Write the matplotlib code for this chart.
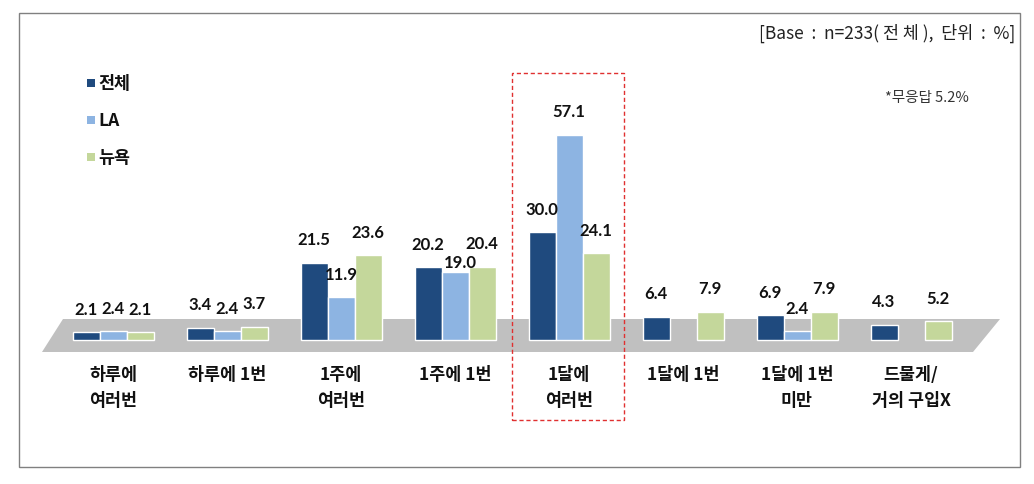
import numpy as np
import matplotlib
matplotlib.use("Agg")
import matplotlib.pyplot as plt
from matplotlib.patches import Polygon, Rectangle

plt.rcParams['font.family'] = ['Noto Sans CJK KR', 'DejaVu Sans']

categories = ["하루에\n여러번", "하루에 1번", "1주에\n여러번", "1주에 1번",
              "1달에\n여러번", "1달에 1번", "1달에 1번\n미만", "드물게/\n거의 구입X"]
series_names = ["전체", "LA", "뉴욕"]
total = [2.1, 3.4, 21.5, 20.2, 30.0, 6.4, 6.9, 4.3]
la = [2.4, 2.4, 11.9, 19.0, 57.1, np.nan, 2.4, np.nan]
ny = [2.1, 3.7, 23.6, 20.4, 24.1, 7.9, 7.9, 5.2]
colors = ["#1F4A7E", "#8DB4E2", "#C4D79B"]

W, H = 1034, 485
fig = plt.figure(figsize=(W / 100, H / 100), dpi=100)

# pixel helpers (x from left, y from top)
def fx(x):
    return x / W

def fy(y):
    return 1 - y / H

# axes mapping: category centers at 113 + 114*i px, baseline at y=341 px, 3.59 px/unit
base_px = 341
ppu = 3.59
ax = fig.add_axes([0, 0, 1, 1])
ax.set_xlim(-113 / 114, (W - 113) / 114)
ax.set_ylim(-(H - base_px) / ppu, base_px / ppu)
ax.axis('off')

# gray floor (behind bars)
floor = Polygon([(fx(63), fy(320)), (fx(1000), fy(320)), (fx(973), fy(353)), (fx(42), fy(353))],
                closed=True, transform=fig.transFigure, facecolor="#C0C0C0", edgecolor="none",
                zorder=1, clip_on=False)
ax.add_patch(floor)

x = np.arange(len(categories))
bw = 27 / 114
data = [total, la, ny]
for k, (vals, c) in enumerate(zip(data, colors)):
    vals = np.array(vals, dtype=float)
    pos = x + (k - 1) * bw
    ax.bar(pos, vals, width=bw, color=c, edgecolor="white", linewidth=1, zorder=3)
    for i, (p, v) in enumerate(zip(pos, vals)):
        if np.isnan(v):
            continue
        dy = 17
        dx = 0
        if k == 1 and i == 3:
            dy = 7
            dx = 4
        ax.annotate(f"{v:.1f}", (p, v), xytext=(dx, dy), textcoords="offset points",
                    ha="center", va="center", fontsize=12, fontweight="bold",
                    family=['Lato', 'Noto Sans CJK KR'], color="#111111", zorder=5)

# category labels
for i, lab in enumerate(categories):
    ax.text(x[i], -(366 - base_px) / ppu, lab, ha="center", va="top", fontsize=12.5,
            fontweight="bold", linespacing=1.55, color="#111111")

# legend
for j, (name, c) in enumerate(zip(series_names, colors)):
    yc = 84 + 37 * j
    fig.patches.append(Rectangle((fx(87), fy(yc + 4)), 8 / W, 8 / H, transform=fig.transFigure,
                                 facecolor=c, edgecolor="none"))
    fig.text(fx(98), fy(yc), name, ha="left", va="center", fontsize=12.5, fontweight="bold",
             family=['Noto Sans CJK KR', 'DejaVu Sans'], color="#111111")

# annotations
fig.text(fx(1015), fy(33), "[Base  :  n=233( 전 체 ),  단위  :  %]", ha="right", va="center",
         fontsize=12.5, color="#222222")
fig.text(fx(927), fy(98), "*무응답 5.2%", ha="center", va="center", fontsize=10.5, color="#333333")

# red dashed highlight box
fig.patches.append(Rectangle((fx(512), fy(421)), (624 - 512) / W, (421 - 74) / H,
                             transform=fig.transFigure, facecolor="none", edgecolor="#E03030",
                             linestyle=(0, (3, 2)), linewidth=1, zorder=6))

# outer frame
fig.patches.append(Rectangle((fx(19), fy(468)), (1020 - 19) / W, (468 - 14) / H,
                             transform=fig.transFigure, facecolor="none", edgecolor="#808080",
                             linewidth=1))

fig.savefig("out.png", dpi=100)
